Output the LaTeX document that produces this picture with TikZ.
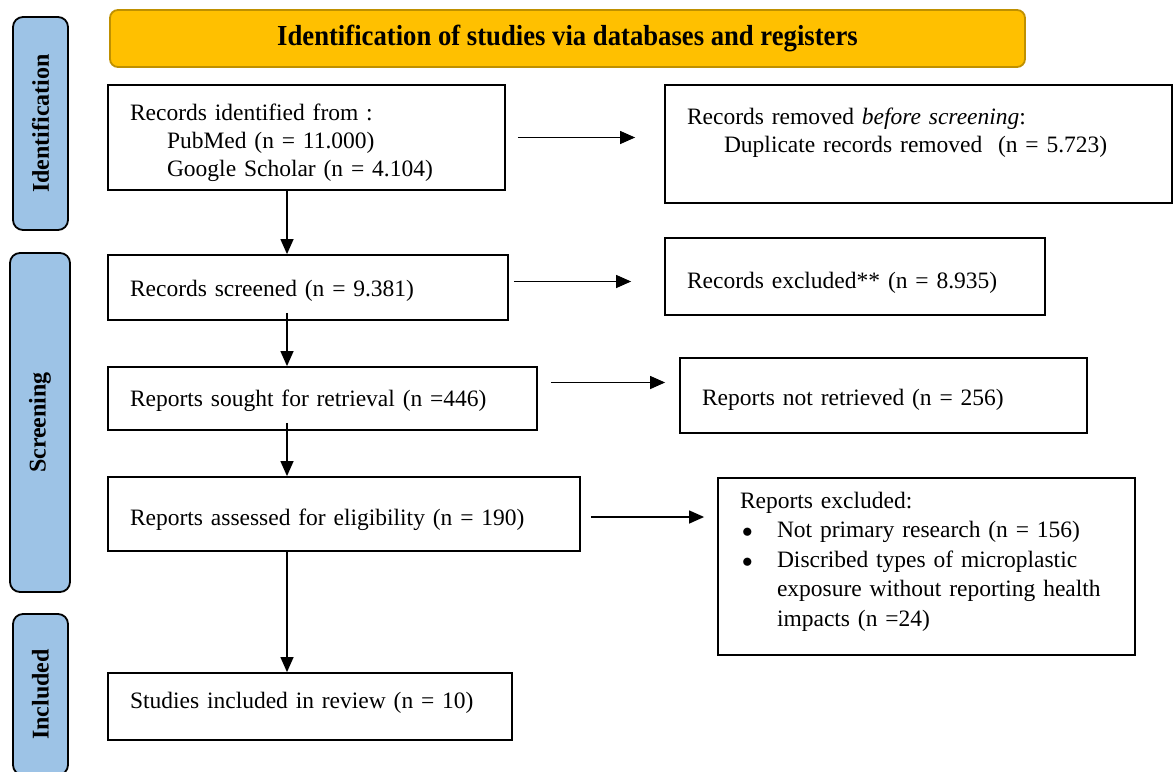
\documentclass[tikz,border=0pt]{standalone}
\usepackage{fontspec}
\usepackage{graphicx}
\setmainfont{Liberation Serif}
\newfontfamily\bannerfont[FakeStretch=0.92]{Liberation Serif}
\usetikzlibrary{arrows.meta,calc}
\definecolor{sideblue}{HTML}{9DC3E6}
\definecolor{bannergold}{HTML}{FFC000}
\definecolor{bannerline}{HTML}{BF9000}
\newcommand{\tb}[2]{\raisebox{#1}[\height][\depth]{\begin{tabular}{@{}l@{}}#2\end{tabular}}}
\tikzset{
  boxnode/.style={draw=black, line width=1.8pt, rectangle, align=left, inner xsep=22pt, inner ysep=0pt,
    font=\fontsize{23.5}{28}\selectfont},
  bx/.style n args={3}{minimum width=#1pt, minimum height=#2pt, text width=#3pt},
  sidebox/.style={draw=black, line width=1.8pt, fill=sideblue, rounded corners=10pt, rotate=90,
    font=\fontsize{24}{28}\selectfont\bfseries, inner sep=0pt},
  flowarrow/.style={line width=1.3pt, -{Triangle[length=15pt,width=13pt]}},
}
\begin{document}
\begin{tikzpicture}[x=1pt,y=-1pt]
\useasboundingbox (0,0) rectangle (1175,771);
% side labels
\node[sidebox, minimum width=213pt, minimum height=55pt] (sid) at (40.5,123.5) {Identification};
\node[sidebox, minimum width=339pt, minimum height=60pt] (ssc) at (40,422.5) {Screening};
\node[sidebox, minimum width=161pt, minimum height=55pt] (sin) at (40.5,694.5) {Included};
% banner
\node[draw=bannerline, line width=1.8pt, fill=bannergold, rounded corners=8pt,
  minimum width=915pt, minimum height=57pt, font=\fontsize{29}{32}\bannerfont\bfseries] (ban) at (567.5,38.5)
  {\raisebox{-5.5pt}{Identification of studies via databases and registers}};
% boxes
\node[boxnode, bx={397}{105}{353}] (A) at (306.5,137.5) {\tb{-5pt}{Records identified from :\\
\hspace*{37pt}PubMed (n = 11.000)\\
\hspace*{37pt}Google Scholar (n = 4.104)}};
\node[boxnode, bx={507}{118}{463}] (B) at (918.5,144) {\tb{11pt}{Records removed \textit{before screening}:\\
\hspace*{37pt}Duplicate records removed\ \ (n = 5.723)}};
\node[boxnode, bx={400}{65}{356}] (C) at (308,287.5) {\tb{-3pt}{Records screened (n = 9.381)}};
\node[boxnode, bx={380}{77}{336}] (D) at (855,276.5) {\tb{-6pt}{Records excluded** (n = 8.935)}};
\node[boxnode, bx={429}{63}{385}] (E) at (322.5,398.5) {\tb{-2pt}{Reports sought for retrieval (n =446)}};
\node[boxnode, bx={407}{75}{363}] (F) at (883.5,395.5) {\tb{-4pt}{Reports not retrieved (n = 256)}};
\node[boxnode, bx={472}{74}{428}] (G) at (344,514) {\tb{-6pt}{Reports assessed for eligibility (n = 190)}};
\node[boxnode, bx={417}{177}{373}] (H) at (926.5,566.5) {\renewcommand{\arraystretch}{1.054}\tb{5pt}{Reports excluded:\\
\makebox[37pt][l]{\hspace{2pt}\scalebox{0.85}{$\bullet$}}Not primary research (n = 156)\\
\makebox[37pt][l]{\hspace{2pt}\scalebox{0.85}{$\bullet$}}Discribed types of microplastic\\
\hspace*{37pt}exposure without reporting health\\
\hspace*{37pt}impacts (n =24)}};
\node[boxnode, bx={404}{67}{360}] (I) at (310,706.5) {\tb{4pt}{Studies included in review (n = 10)}};
% connectors
\coordinate (col) at (287,0);
\draw[flowarrow, shorten <=12pt, shorten >=29pt] (A.east) -- (A.east -| B.west);
\draw[flowarrow, shorten <=5pt, shorten >=33pt] ([yshift=6pt]C.east) -- ([yshift=6pt]C.east -| D.west);
\draw[flowarrow, shorten <=13pt, shorten >=14pt] ([yshift=16pt]E.east) -- ([yshift=16pt]E.east -| F.west);
\draw[flowarrow, shorten <=10pt, shorten >=13pt] ([yshift=-3pt]G.east) -- ([yshift=-3pt]G.east -| H.west);
\draw[flowarrow] (A.south -| col) -- (C.north -| col);
\draw[flowarrow, shorten <=-8pt] (C.south -| col) -- (E.north -| col);
\draw[flowarrow, shorten <=-8pt] (E.south -| col) -- (G.north -| col);
\draw[flowarrow] (G.south -| col) -- (I.north -| col);
\end{tikzpicture}
\end{document}
